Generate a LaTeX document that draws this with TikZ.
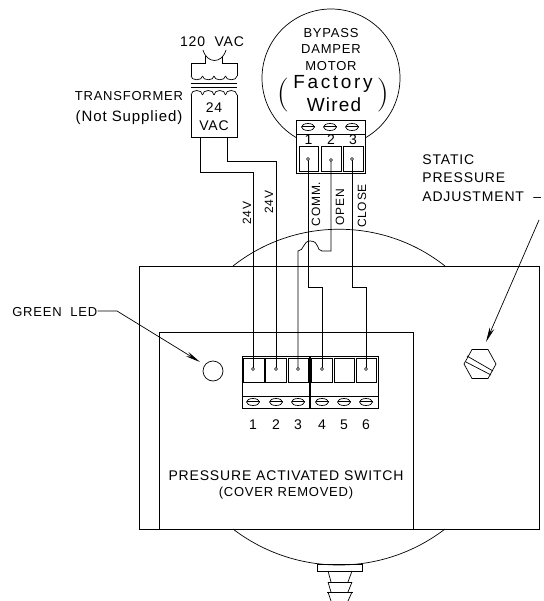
\documentclass[tikz,border=0pt]{standalone}
\usepackage{fontspec}
\setmainfont[LetterSpace=6]{Liberation Sans}
\newfontfamily\parenfont{Latin Modern Roman}
\usetikzlibrary{arrows.meta}
\tikzset{
  wire/.style={line width=.7pt},
  label/.style={font=\fontsize{12}{12}\selectfont,inner sep=0pt},
  midlabel/.style={font=\fontsize{13}{13}\selectfont,inner sep=0pt},
  biglabel/.style={font=\fontsize{14}{14}\selectfont,inner sep=0pt},
  pointer/.style={line width=.7pt,-{Stealth[length=15pt,width=5pt]}},
  dot/.style={draw,fill=white,line width=.5pt}
}
\begin{document}
\begin{tikzpicture}[x=1pt,y=-1pt,line width=.7pt]
  \useasboundingbox (0,0) rectangle (543,601);
  \coordinate (m1) at (308,159); \coordinate (m2) at (331,160); \coordinate (m3) at (352,159);
  \coordinate (x1) at (200,137); \coordinate (x2) at (227,137);
  \coordinate (led) at (213,371); \coordinate (hexscrew) at (480,364);
  \foreach \name/\x in {t1/253,t2/276,t3/298,t4/322,t6/366}{
    \coordinate (\name) at (\x,369);
  }
  \draw (233,266) .. controls (295,217) and (383,217) .. (445,266);
  \draw (233,529) .. controls (295.5,577) and (382.5,577) .. (445,529);
  \draw (139,266) rectangle (539,529);
  \draw (159,332) rectangle (413,529);
  \draw (317,564) rectangle (362,571);
  \foreach \y/\yy in {571/582,582/592,592/601}{
    \draw (328,\y)--(331,\yy) (352,\y)--(348,\yy);
  }
  \draw (328,582)--(352,582) (327,592)--(353,592);
  \node[draw,circle,minimum size=138pt,inner sep=0pt] (motor) at (331,78) {};
  \draw[fill=white] (296,120) rectangle (365,173);
  \draw (296,134)--(365,134);
  \foreach \xa/\xb/\n in {299/318/1,321/341/2,343/363/3}{
    \draw (\xa,146) rectangle (\xb,171);
    \node[biglabel] (mnum\n) at ({(\xa+\xb)/2},140) {\n};
  }
  \foreach \x in {308,330,352}{
    \draw (\x,127) ellipse [x radius=6.5pt,y radius=3.5pt];
    \draw (\x-6.5,126.5)--(\x+6.5,126.5);
  }
  \draw (242,356) rectangle (378,408);
  \draw (242,396)--(378,396);
  \draw[line width=1.3pt] (310,356)--(310,408);
  \foreach \xa/\xb in {243/264,265/286,288/308,311/332,334/354,356/376}{
    \draw (\xa,358) rectangle (\xb,382);
  }
  \foreach \x/\n in {253/1,276/2,298/3,322/4,344/5,366/6}{
    \draw (\x,402) ellipse [x radius=6.5pt,y radius=3.5pt];
    \draw (\x-6.5,401.5)--(\x+6.5,401.5);
    \node[biglabel] (tnum\n) at (\x,425) {\n};
  }
  \coordinate (xb1) at (253,172); \coordinate (xb2) at (276,161);
  \coordinate (cb1) at (322,287); \coordinate (cb2) at (366,287);
  \draw[wire] (x1) |- (xb1) -- (t1);
  \draw[wire] (x2) |- (xb2) -- (t2);
  \draw[wire] (m1) |- (cb1) -- (t4);
  \draw[wire] (m3) |- (cb2) -- (t6);
  \draw[wire] (m2) -- (331,251) -- (322,251) .. controls (316,251) and (320,241) .. (310,241)
    .. controls (303,241) and (304,251) .. (298,251) -- (t3);
  \foreach \c in {m1,m2,m3,t1,t2,t3,t4,t6}{
    \draw[dot] (\c) circle (1.5pt);
  }
  \draw (191,95)--(191,137)--(237,137)--(237,95);
  \foreach \x in {191,202.5,214,225.5}{
    \draw (\x,76) .. controls (\x,81) and (\x+11.5,81) .. (\x+11.5,76);
    \draw (\x,95) .. controls (\x,89) and (\x+11.5,89) .. (\x+11.5,95);
  }
  \draw (191,83)--(237,83) (191,87)--(237,87);
  \draw (191,76)--(191,63)--(205,63)--(205,56) (237,76)--(237,63)--(222,63)--(222,56);
  \draw (203,50) .. controls (207,64) and (222,64) .. (226,50);
  \node[biglabel] (primary) at (212,42) {120\ \ VAC};
  \node[midlabel] (xfmr) at (129,96) {TRANSFORMER};
  \node[midlabel,font=\fontsize{15}{15}\selectfont] (notsup) at (129,118) {(Not Supplied)};
  \node[biglabel] (sec1) at (214,108) {24};
  \node[biglabel] (sec2) at (214,126) {VAC};
  \node[midlabel] (bypass) at (331,33) {BYPASS};
  \node[midlabel] (damper) at (331,49) {DAMPER};
  \node[midlabel] (motorname) at (331,66) {MOTOR};
  \node[inner sep=0pt,font=\fontsize{19}{19}\selectfont\addfontfeature{LetterSpace=14}] (factory) at (333,84) {Factory};
  \node[inner sep=0pt,font=\fontsize{19}{19}\selectfont] (wired) at (334,105) {Wired};
  \node[inner sep=0pt,font=\fontsize{34}{34}\parenfont] (lp) at (283,95) {(};
  \node[inner sep=0pt,font=\fontsize{34}{34}\parenfont] (rp) at (383,95) {)};
  \foreach \nm/\x/\y/\txt in {v1/247/213/24V,v2/269/202/24V,comm/316/204/COMM.,open/340/207/OPEN,close/362/206/CLOSE}{
    \node[label,rotate=90] (\nm) at (\x,\y) {\txt};
  }
  \node[biglabel,anchor=west] (s1) at (422,160) {STATIC};
  \node[biglabel,anchor=west] (s2) at (422,178) {PRESSURE};
  \node[biglabel,anchor=west] (s3) at (422,197) {ADJUSTMENT\ \ --};
  \coordinate (sp) at (539,220);
  \draw[pointer] (sp) -- (486,342);
  \draw (hexscrew) ++(-16,0) -- ++(8,-14.5) -- ++(16,0) -- ++(8,14.5) -- ++(-8,14.5) -- ++(-16,0) -- cycle;
  \draw (467,356)--(493,371) (466,362)--(491,375);
  \draw (led) circle (10pt);
  \node[midlabel,anchor=west] (greenled) at (12,312) {GREEN\ \ LED};
  \coordinate (ledbend) at (117,311);
  \draw[pointer] (greenled.east |- ledbend) -- (ledbend) -- (200,362);
  \node[biglabel] (sw1) at (286,476) {PRESSURE ACTIVATED SWITCH};
  \node[midlabel] (sw2) at (286,493) {(COVER REMOVED)};
\end{tikzpicture}
\end{document}
